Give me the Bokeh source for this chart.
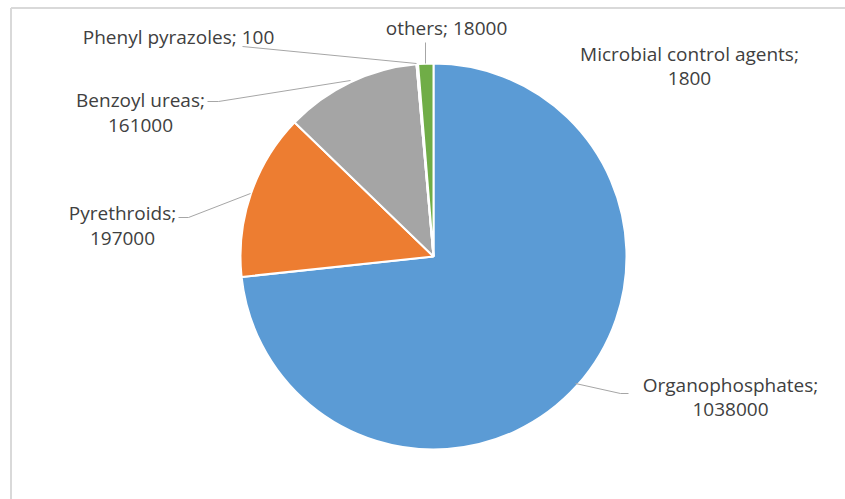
import math
from bokeh.plotting import figure
from bokeh.models import Range1d, ColumnDataSource
from bokeh.core.properties import value
from bokeh.embed import file_html
from bokeh.resources import INLINE

# ---- data ----
categories = ["Organophosphates", "Pyrethroids", "Benzoyl ureas",
              "Phenyl pyrazoles", "Microbial control agents", "others"]
amounts = [1038000, 197000, 161000, 100, 1800, 18000]
colors = ["#5B9BD5", "#ED7D31", "#A5A5A5", "#FFC000", "#4472C4", "#70AD47"]

W, H = 845, 499
CX, CY, R = 433, 256, 193  # pie centre / radius in screen pixels

def Y(py):
    return H - py

p = figure(width=W, height=H, output_backend="svg", toolbar_location=None,
           x_range=Range1d(0, W), y_range=Range1d(0, H), min_border=0,
           outline_line_color=None, background_fill_color="white")
p.axis.visible = False
p.grid.visible = False

# chart frame (light grey border)
p.line([10.5, 10.5], [Y(W), Y(7.5)], line_color="#D9D9D9", line_width=2)
p.line([10.5, W], [Y(7.5), Y(7.5)], line_color="#D9D9D9", line_width=2)

# wedges: start at 12 o'clock, clockwise
total = float(sum(amounts))
starts, ends = [], []
cum = 0.0
for a in amounts:
    s = cum / total
    cum += a
    e = cum / total
    starts.append(math.pi / 2 - e * 2 * math.pi)
    ends.append(math.pi / 2 - s * 2 * math.pi)

src = ColumnDataSource(dict(start=starts, end=ends, color=colors,
                            cat=categories, amt=amounts))
p.wedge(x=CX, y=Y(CY), radius=R, start_angle="start", end_angle="end",
        fill_color="color", line_color="white", line_width=2, source=src)

# label layout (positions only)
label_pos = {
    "Organophosphates": [(730, 384), (730, 409)],
    "Pyrethroids": [(122, 212), (122, 238)],
    "Benzoyl ureas": [(140, 99), (140, 125)],
    "Phenyl pyrazoles": [(178, 36)],
    "Microbial control agents": [(689, 53), (689, 78)],
    "others": [(446, 27)],
}
leaders = {
    "Organophosphates": [(575, 383), (620, 393), (628, 393)],
    "Pyrethroids": [(250, 193), (188, 217), (178, 217)],
    "Benzoyl ureas": [(350, 80), (218, 101), (207, 101)],
    "Phenyl pyrazoles": [(416, 63), (242, 46)],
    "others": [(425, 63), (425, 42)],
}

tx, ty, tt = [], [], []
for cat, amt in zip(categories, amounts):
    pos = label_pos[cat]
    if len(pos) == 1:
        tx.append(pos[0][0]); ty.append(Y(pos[0][1])); tt.append(f"{cat}; {amt}")
    else:
        tx.append(pos[0][0]); ty.append(Y(pos[0][1])); tt.append(f"{cat};")
        tx.append(pos[1][0]); ty.append(Y(pos[1][1])); tt.append(f"{amt}")
    if cat in leaders:
        pts = leaders[cat]
        p.line([q[0] for q in pts], [Y(q[1]) for q in pts],
               line_color="#A6A6A6", line_width=1)

p.text(x=tx, y=ty, text=tt, text_align="center", text_baseline="middle",
       text_font=value("Open Sans"), text_font_size="19px", text_color="#404040")

open("out.html", "w").write(file_html(p, INLINE))
